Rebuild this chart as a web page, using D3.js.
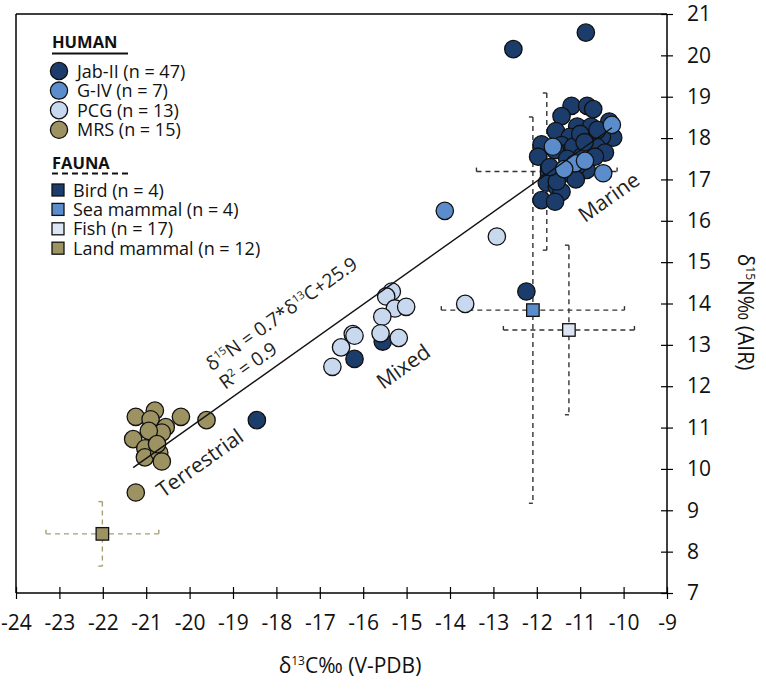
<!DOCTYPE html>
<html><head><meta charset="utf-8">
<script src="https://cdn.jsdelivr.net/npm/d3@7"></script>
<style>
html,body{margin:0;padding:0;background:#fff;}
svg{display:block;font-family:"Open Sans",sans-serif;}
</style></head>
<body><svg id="c" width="766" height="689"></svg>
<script>
// ---- data (δ13C, δ15N) ----
const jabII = [
 [-12.54,20.15],[-10.87,20.55],
 [-11.20,18.78],[-10.84,18.78],[-10.70,18.70],[-11.43,18.53],[-10.33,18.40],[-11.07,18.28],[-10.75,18.28],
 [-11.56,18.17],[-11.24,18.03],[-10.24,18.01],[-10.50,18.03],[-11.89,17.85],[-11.43,17.83],[-10.81,17.87],
 [-10.62,17.79],[-10.43,17.65],[-11.97,17.55],[-11.35,17.63],[-11.08,17.67],[-11.27,17.39],[-10.85,17.23],
 [-11.35,17.15],[-11.77,16.92],[-11.54,16.82],[-11.43,16.70],[-11.89,16.50],[-11.58,16.46],[-11.16,17.79],
 [-11.58,17.71],[-10.97,17.55],[-10.66,17.55],[-11.08,17.31],[-11.54,16.95],[-11.00,18.10],[-10.90,17.90],
 [-11.30,17.50],[-10.60,18.20],[-11.70,17.30],[-11.10,17.00],
 [-18.45,11.18],[-16.20,12.66],[-15.55,13.08],[-12.24,14.29]
];
const gIV = [[-10.27,18.32],[-11.63,17.79],[-11.12,17.39],[-10.89,17.45],[-11.37,17.25],[-10.47,17.15],[-14.12,16.24]];
const pcg = [[-12.92,15.62],[-13.65,13.99],[-15.34,14.29],[-15.47,14.17],[-15.27,13.88],[-15.01,13.92],[-15.56,13.68],
 [-15.60,13.28],[-15.18,13.17],[-16.24,13.26],[-16.20,13.22],[-16.51,12.94],[-16.71,12.47]];
const mrs = [[-21.24,11.26],[-20.80,11.41],[-20.90,11.20],[-20.20,11.26],[-19.61,11.18],[-20.55,11.01],[-20.64,10.88],
 [-20.94,10.92],[-21.30,10.72],[-21.02,10.50],[-21.03,10.28],[-20.70,10.39],[-20.64,10.18],[-21.24,9.43],[-20.75,10.60]];
// fauna means with errors
const fauna = [
 {name:"Bird", n:4, x:-11.77, y:17.19, ex:1.62, ey:1.90},
 {name:"Sea mammal", n:4, x:-12.09, y:13.84, ex:2.11, ey:4.67},
 {name:"Fish", n:17, x:-11.26, y:13.36, ex:1.51, ey:2.05},
 {name:"Land mammal", n:12, x:-22.01, y:8.43, ex:1.30, ey:0.78}
];
const xTicks = d3.range(-24,-8,1);
const yTicks = d3.range(7,22,1);
const regSlope = 0.745, regIntercept = 25.9, regRange = [-21.3,-10.27];

const cols = {jab:"#1c3d6b", giv:"#5b8dcd", pcg:"#c8d9ef", mrs:"#9d9261",
  bird:"#1c3d6b", sea:"#5b8dcd", fish:"#dde5f2", land:"#9d9261"};
const faunaFill = [cols.bird, cols.sea, cols.fish, cols.land];
const faunaErr = ["#333","#333","#333","#a79f74"];

const svg = d3.select("#c");
const x = d3.scaleLinear().domain([-24,-9]).range([16,667]);
const y = d3.scaleLinear().domain([7,21]).range([593,14]);

// frame
svg.append("line").attr("x1",x(-24)).attr("x2",x(-9)).attr("y1",y(21)).attr("y2",y(21)).attr("stroke","#000").attr("stroke-width",1.5);
svg.append("line").attr("x1",x(-24)).attr("x2",x(-24)).attr("y1",y(21)).attr("y2",y(7)).attr("stroke","#000").attr("stroke-width",1.5);

// x axis (bottom)
const gx = svg.append("g").attr("transform",`translate(0,${y(7)})`)
  .call(d3.axisBottom(x).tickValues(xTicks).tickSize(6).tickPadding(15).tickFormat(d=>String(d).replace("−","-")));
gx.select(".domain").attr("stroke","#000").attr("stroke-width",1.5).attr("d",`M${x(-24)},0H${x(-9)}`);
gx.selectAll(".tick line").attr("y1",-6).attr("y2",6).attr("stroke","#000").attr("stroke-width",1.2);
gx.selectAll(".tick text").attr("font-family","Open Sans").attr("font-size",21).attr("fill","#111").attr("dy","0.75em");

// y axis (right)
const gy = svg.append("g").attr("transform",`translate(${x(-9)},0)`)
  .call(d3.axisRight(y).tickValues(yTicks).tickSize(6).tickPadding(14));
gy.select(".domain").attr("stroke","#000").attr("stroke-width",1.5).attr("d",`M0,${y(21)}V${y(7)}`);
gy.selectAll(".tick line").attr("x1",-6).attr("x2",6).attr("stroke","#000").attr("stroke-width",1.2);
gy.selectAll(".tick text").attr("font-family","Open Sans").attr("font-size",21).attr("fill","#111");

// axis titles
const xt = svg.append("text").attr("x",350).attr("y",673).attr("text-anchor","middle").attr("font-size",21).attr("fill","#111");
xt.append("tspan").text("δ");
xt.append("tspan").attr("font-size",12).attr("dy",-8).text("13");
xt.append("tspan").attr("dy",8).text("C‰ (V-PDB)");
const yt = svg.append("text").attr("transform","translate(738,312) rotate(90)").attr("text-anchor","middle").attr("font-size",21).attr("fill","#111");
yt.append("tspan").text("δ");
yt.append("tspan").attr("font-size",12).attr("dy",-8).text("15");
yt.append("tspan").attr("dy",8).text("N‰ (AIR)");

// error bars
const eb = svg.append("g").attr("fill","none").attr("stroke-width",1.4).attr("stroke-dasharray","5,4");
fauna.forEach((f,i)=>{
  const c = faunaErr[i];
  const cx = x(f.x), cy = y(f.y);
  const xl = x(f.x-f.ex), xr = x(f.x+f.ex), yt2 = y(f.y+f.ey), yb = y(f.y-f.ey);
  eb.append("line").attr("x1",xl).attr("x2",xr).attr("y1",cy).attr("y2",cy).attr("stroke",c);
  eb.append("line").attr("x1",cx).attr("x2",cx).attr("y1",yt2).attr("y2",yb).attr("stroke",c);
  const caps = svg.append("g").attr("stroke",c).attr("stroke-width",1.4);
  caps.append("line").attr("x1",xl).attr("x2",xl).attr("y1",cy-4).attr("y2",cy);
  caps.append("line").attr("x1",xr).attr("x2",xr).attr("y1",cy-4).attr("y2",cy);
  caps.append("line").attr("x1",cx-4).attr("x2",cx).attr("y1",yt2).attr("y2",yt2);
  caps.append("line").attr("x1",cx-4).attr("x2",cx).attr("y1",yb).attr("y2",yb);
});
// fauna squares
const sq = 12.5;
svg.append("g").selectAll("rect").data(fauna).join("rect")
  .attr("x",d=>x(d.x)-sq/2).attr("y",d=>y(d.y)-sq/2).attr("width",sq).attr("height",sq)
  .attr("fill",(d,i)=>faunaFill[i]).attr("stroke","#111").attr("stroke-width",1.3);

// human circles
const r = 8.7;
function dots(data, fill){
  svg.append("g").selectAll("circle").data(data).join("circle")
    .attr("cx",d=>x(d[0])).attr("cy",d=>y(d[1])).attr("r",r)
    .attr("fill",fill).attr("stroke","#111").attr("stroke-width",1.3);
}
dots(jabII, cols.jab);
dots(gIV, cols.giv);
dots(pcg, cols.pcg);
dots(mrs, cols.mrs);

// regression line
svg.append("line")
  .attr("x1",x(regRange[0])).attr("y1",y(regSlope*regRange[0]+regIntercept))
  .attr("x2",x(regRange[1])).attr("y2",y(regSlope*regRange[1]+regIntercept))
  .attr("stroke","#111").attr("stroke-width",1.4);

// annotations
const ang = -35.5;
function rotText(px,py,size){
  return svg.append("text").attr("transform",`translate(${x(px)},${y(py)}) rotate(${ang})`)
    .attr("font-size",size).attr("fill","#222");
}
const eq = rotText(-19.49,12.35,19);
eq.append("tspan").text("δ");
eq.append("tspan").attr("font-size",11).attr("dy",-7).text("15");
eq.append("tspan").attr("dy",7).text("N = 0.7*δ");
eq.append("tspan").attr("font-size",11).attr("dy",-7).text("13");
eq.append("tspan").attr("dy",7).text("C+25.9");
const r2 = rotText(-19.18,11.91,19);
r2.append("tspan").text("R");
r2.append("tspan").attr("font-size",11).attr("dy",-7).text("2");
r2.append("tspan").attr("dy",7).text(" = 0.9");
rotText(-20.61,9.29,21).text("Terrestrial");
rotText(-15.54,11.91,21).text("Mixed");
rotText(-10.89,15.94,21).text("Marine");

// legend
const lg = svg.append("g");
lg.append("text").attr("x",52).attr("y",48).attr("font-size",16.5).attr("font-weight","bold").attr("fill","#111").text("HUMAN");
lg.append("line").attr("x1",52).attr("x2",128).attr("y1",53.5).attr("y2",53.5).attr("stroke","#111").attr("stroke-width",2);
const humanLeg = [["Jab-II (n = 47)",cols.jab],["G-IV (n = 7)",cols.giv],["PCG (n = 13)",cols.pcg],["MRS (n = 15)",cols.mrs]];
humanLeg.forEach((h,i)=>{
  const cy = 71 + i*19.6;
  lg.append("circle").attr("cx",59).attr("cy",cy).attr("r",8.6).attr("fill",h[1]).attr("stroke","#111").attr("stroke-width",1.3);
  lg.append("text").attr("x",77).attr("y",cy+6.5).attr("font-size",18).attr("fill","#111").text(h[0]);
});
lg.append("text").attr("x",52).attr("y",168.5).attr("font-size",16.5).attr("font-weight","bold").attr("fill","#111").text("FAUNA");
lg.append("line").attr("x1",52).attr("x2",128).attr("y1",173.5).attr("y2",173.5).attr("stroke","#111").attr("stroke-width",2).attr("stroke-dasharray","6,4");
fauna.forEach((f,i)=>{
  const cy = 190 + i*19.4;
  lg.append("rect").attr("x",52).attr("y",cy-6).attr("width",12).attr("height",12).attr("fill",faunaFill[i]).attr("stroke","#111").attr("stroke-width",1.3);
  lg.append("text").attr("x",73).attr("y",cy+6.5).attr("font-size",18).attr("fill","#111").text(`${f.name} (n = ${f.n})`);
});
</script></body></html>
